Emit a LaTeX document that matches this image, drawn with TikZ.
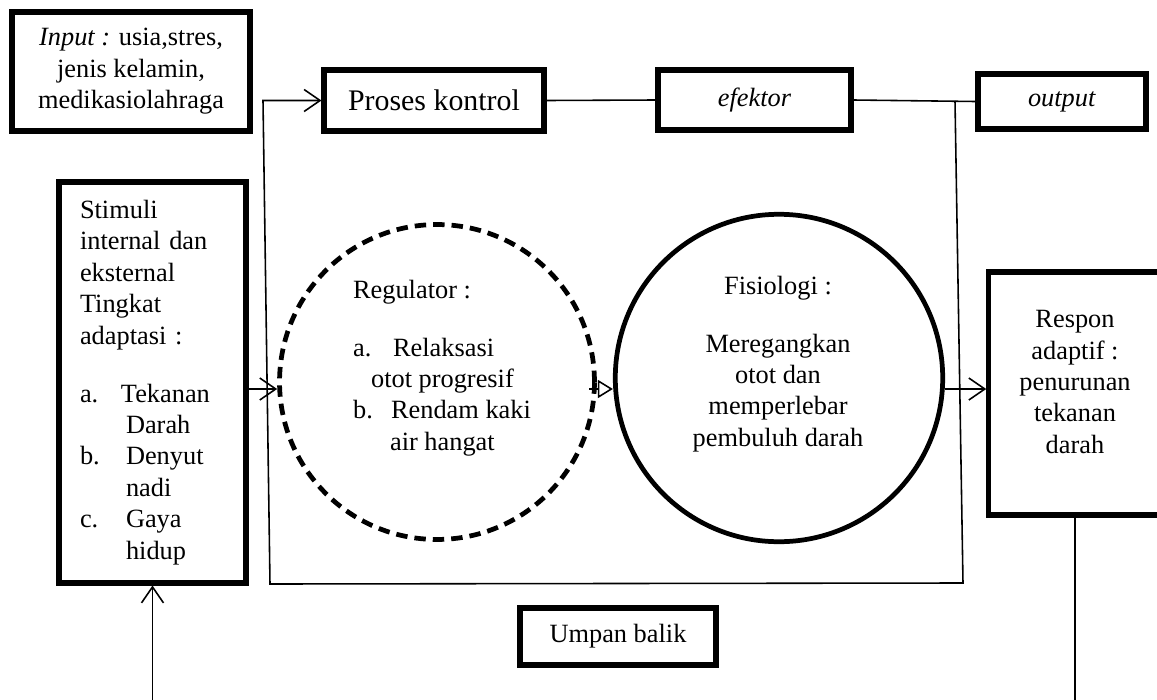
\documentclass[tikz,border=0pt]{standalone}
\usepackage{fontspec}
\setmainfont{Liberation Serif}
\usetikzlibrary{arrows.meta}

\begin{document}
\begin{tikzpicture}[
    x=0.02cm, y=-0.02cm,
    every node/.style={font=\fontsize{15}{17.9}\selectfont},
    kotak/.style={rectangle, draw, line width=2.9pt, align=center, inner sep=0pt},
    garis/.style={line width=0.9pt},
    panah/.style={garis, -{Straight Barb[length=3.2mm, width=4.4mm, line width=0.9pt]}},
    regulator/.style={circle, draw, line width=2.7pt, dash pattern=on 6.5pt off 4pt, minimum size=6.3cm, inner sep=0pt},
    fisiologi/.style={circle, draw, line width=2.7pt, minimum size=6.55cm, inner sep=0pt}
]
\useasboundingbox (0,0) rectangle (1157,700);

% Baris atas
\node[kotak, minimum width=4.76cm, minimum height=2.38cm] (input) at (131,71.5) {\textit{Input :} usia,stres,\\ jenis kelamin,\\ medikasiolahraga};
\node[kotak, minimum width=4.4cm, minimum height=1.22cm, font=\fontsize{17}{20}\selectfont] (proses) at (434,100.5) {Proses kontrol};
\node[kotak, minimum width=3.86cm, minimum height=1.2cm] (efektor) at (754.5,100) {\textit{efektor}};
\node[kotak, minimum width=3.36cm, minimum height=1.1cm] (output) at (1062,101.5) {\textit{output}};

% Stimuli
\node[kotak, minimum width=3.74cm, minimum height=8.02cm, text width=2.9cm, align=left] (stimuli) at (152.5,382.5) {Stimuli\\ internal dan\\ eksternal\\ Tingkat\\ adaptasi :\\[15pt] \makebox[0.82cm][l]{a.}Tekanan\\ \hspace*{0.92cm}Darah\\ \makebox[0.92cm][l]{b.}Denyut\\ \hspace*{0.92cm}nadi\\ \makebox[0.92cm][l]{c.}Gaya\\ \hspace*{0.92cm}hidup};

% Lingkaran
\node[regulator] (reg) at (437,382) {};
\node[align=left] (regteks) at (442,368) {Regulator :\\[15pt] \makebox[0.8cm][l]{a.}Relaksasi\\ \hspace*{0.36cm}otot progresif\\ \makebox[0.76cm][l]{b.}Rendam kaki\\ \hspace*{0.74cm}air hangat};
\node[fisiologi] (fis) at (779,378) {};
\node[align=center] (fisteks) at (778,364) {Fisiologi :\\[15pt] Meregangkan\\ otot dan\\ memperlebar\\ pembuluh darah};

% Respon
\node[kotak, minimum width=3.45cm, minimum height=4.86cm] (respon) at (1075,393.5) {};
\node[align=center] (responteks) at (1075,382) {Respon\\ adaptif :\\ penurunan\\ tekanan\\ darah};

% Umpan balik
\node[kotak, minimum width=3.92cm, minimum height=1.14cm] (umpan) at (618,636.5) {Umpan balik};

% Garis
\draw[garis] (proses.east) -- (efektor.west);
\draw[garis] (efektor.east) -- (output.west);

\coordinate (cabang) at (955,101);
\coordinate (ujungkanan) at (963,583);
\coordinate (ujungkiri) at (270,584);
\coordinate (sudut) at (263,100.5);
\draw[panah] (cabang) -- (ujungkanan) -- (ujungkiri) -- (sudut) -- (proses.west);

\coordinate (baris) at (0,389);
\draw[panah] (stimuli.east |- baris) -- (reg.west |- baris);
\draw[garis, -{Triangle[open, length=3mm, width=3.6mm, line width=0.9pt]}] ([xshift=-0.15cm]reg.east |- baris) -- (fis.west |- baris);
\draw[panah] (fis.east |- baris) -- (respon.west |- baris);

\coordinate (bawah) at (0,700);
\draw[garis] (respon.south) -- (respon.south |- bawah);
\draw[panah] (stimuli.south |- bawah) -- (stimuli.south);

\end{tikzpicture}
\end{document}
